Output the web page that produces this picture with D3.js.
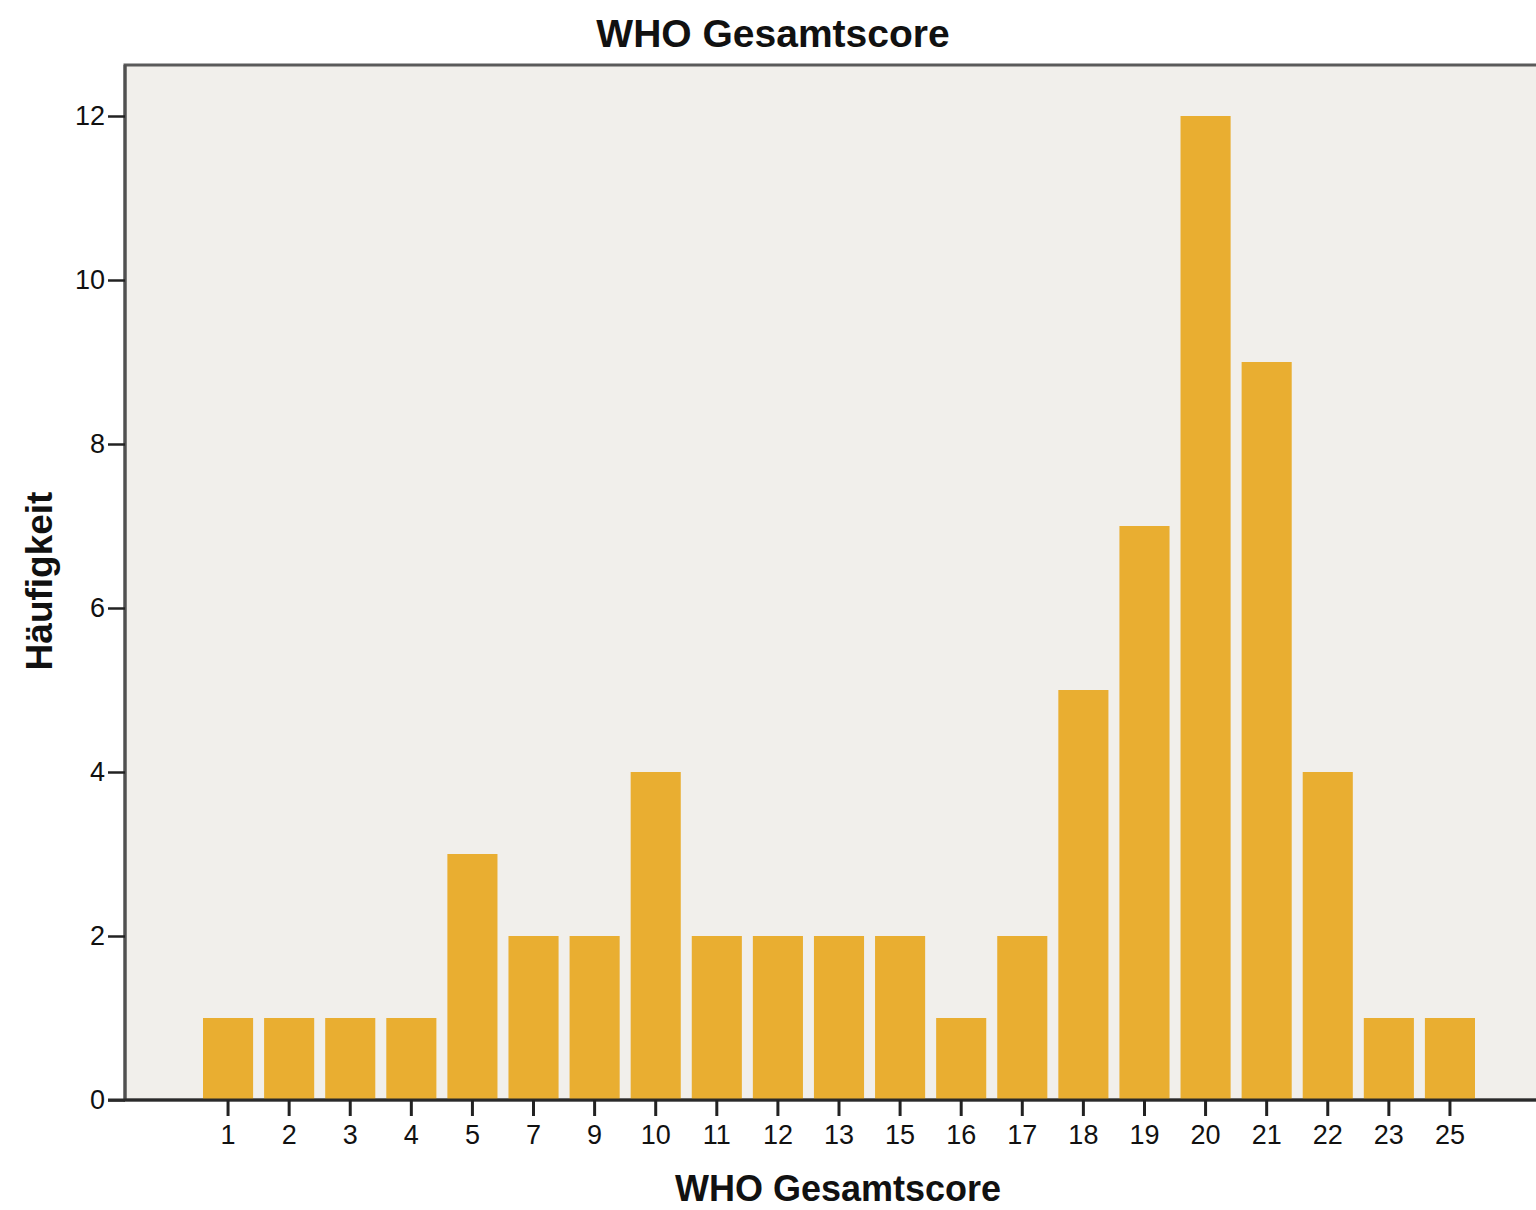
<!DOCTYPE html>
<html>
<head>
<meta charset="utf-8">
<script src="https://cdn.jsdelivr.net/npm/d3@7"></script>
<style>
  body { margin: 0; background: #fff; }
  svg { display: block; font-family: "Liberation Sans", Arial, sans-serif; }
</style>
</head>
<body>
<svg width="1536" height="1210"></svg>
<script>
// WHO Gesamtscore frequencies
var scores = ["1","2","3","4","5","7","9","10","11","12","13","15","16","17","18","19","20","21","22","23","25"];
var counts = [1,1,1,1,3,2,2,4,2,2,2,2,1,2,5,7,12,9,4,1,1];
var yTicks = [0,2,4,6,8,10,12];

var svg = d3.select("svg");

var plot = { left: 125, right: 1560, top: 65, bottom: 1100 };

var x = d3.scaleBand()
    .domain(scores)
    .range([197.5, 1480.5])
    .paddingInner(0.18)
    .paddingOuter(0.09);

var y = d3.scaleLinear()
    .domain([0, 12])
    .range([plot.bottom, 116]);

// plot background + frame
svg.append("rect")
    .attr("x", plot.left)
    .attr("y", plot.top)
    .attr("width", plot.right - plot.left)
    .attr("height", plot.bottom - plot.top)
    .attr("fill", "#f1efeb")
    .attr("stroke", "#5a5a5a")
    .attr("stroke-width", 3);

// bars
svg.append("g")
  .selectAll("rect")
  .data(counts)
  .enter().append("rect")
    .attr("x", function(d, i) { return x(scores[i]); })
    .attr("y", function(d) { return y(d); })
    .attr("width", x.bandwidth())
    .attr("height", function(d) { return y(0) - y(d); })
    .attr("fill", "#e9ae31");

// y axis
var yAxis = svg.append("g")
    .attr("transform", "translate(" + plot.left + ",0)")
    .call(d3.axisLeft(y).tickValues(yTicks).tickSize(17).tickPadding(3).tickFormat(d3.format("d")));
yAxis.select(".domain").attr("stroke", "#505050").attr("stroke-width", 3)
    .attr("d", "M0," + plot.top + "V" + plot.bottom);
yAxis.selectAll(".tick line").attr("stroke", "#222").attr("stroke-width", 2.5);
yAxis.selectAll(".tick text").attr("font-size", 27).attr("fill", "#111");

// x axis
var xAxis = svg.append("g")
    .attr("transform", "translate(0," + plot.bottom + ")")
    .call(d3.axisBottom(x).tickSize(16).tickPadding(9));
xAxis.select(".domain").attr("stroke", "#2a2a2a").attr("stroke-width", 3)
    .attr("d", "M108,0H" + plot.right);
xAxis.selectAll(".tick line").attr("stroke", "#222").attr("stroke-width", 3);
xAxis.selectAll(".tick text").attr("font-size", 27).attr("fill", "#111");

// titles
svg.append("text")
    .attr("x", 773)
    .attr("y", 47)
    .attr("text-anchor", "middle")
    .attr("font-size", 39)
    .attr("font-weight", "bold")
    .attr("fill", "#111")
    .text("WHO Gesamtscore");

svg.append("text")
    .attr("x", 838)
    .attr("y", 1201)
    .attr("text-anchor", "middle")
    .attr("font-size", 36)
    .attr("font-weight", "bold")
    .attr("fill", "#111")
    .text("WHO Gesamtscore");

svg.append("text")
    .attr("transform", "translate(52,581) rotate(-90)")
    .attr("text-anchor", "middle")
    .attr("font-size", 37)
    .attr("font-weight", "bold")
    .attr("fill", "#111")
    .text("Häufigkeit");
</script>
</body>
</html>
